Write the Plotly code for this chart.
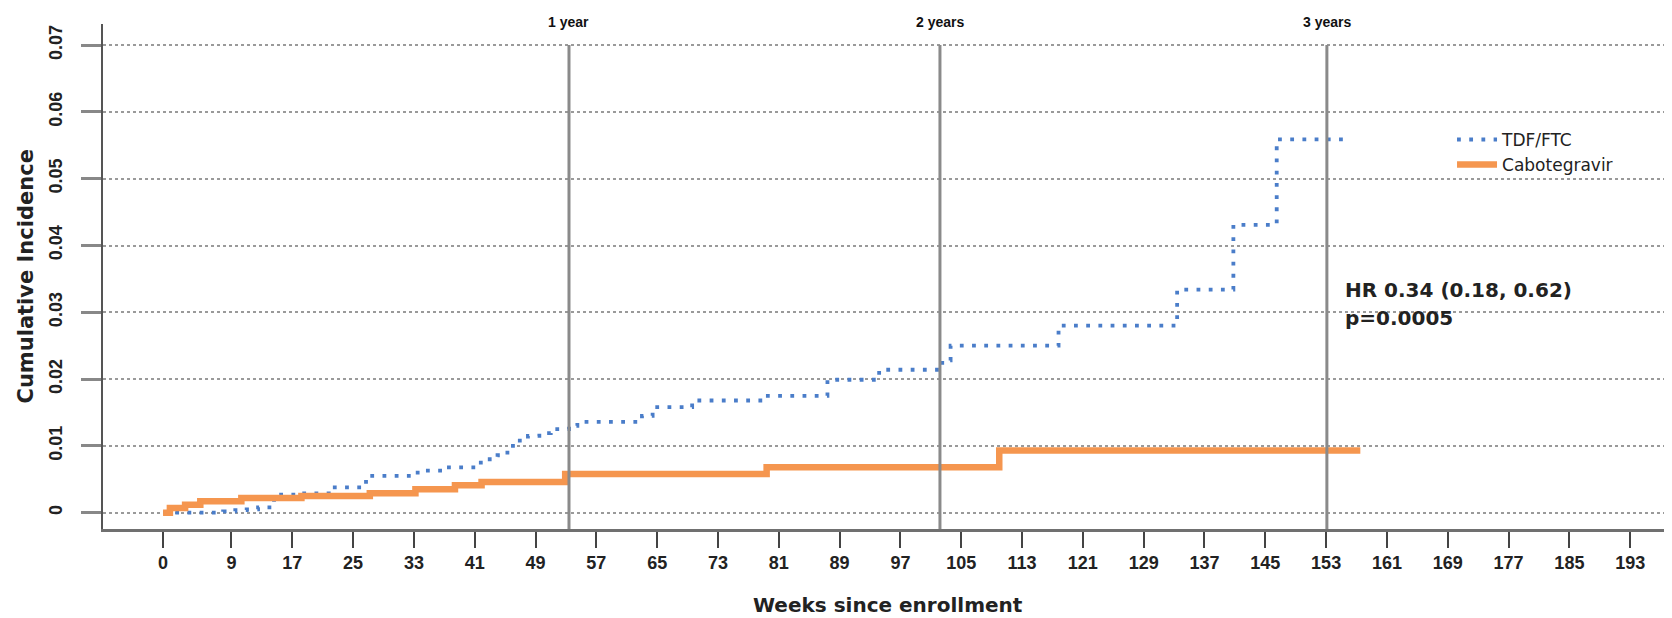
import plotly.graph_objects as go

# ---- data ----
tdf_weeks = [0, 7.9, 9.5, 11.0, 12.5, 14.6, 18.0, 21.8, 26.7, 32.9, 34.2, 37.3, 41.8, 44.0,
             45.3, 46.5, 48.0, 49.5, 51.0, 53.4, 54.5, 63.0, 64.4, 69.6, 78.9, 87.4, 94.2,
             102.5, 103.6, 117.8, 133.4, 140.8, 146.5, 156.2]
tdf_inc = [0, 0.0002, 0.0004, 0.0005, 0.0008, 0.0027, 0.0029, 0.0038, 0.0055, 0.0060, 0.0063,
           0.0068, 0.0080, 0.0086, 0.0100, 0.0108, 0.0115, 0.0119, 0.0125, 0.0130, 0.0136,
           0.0145, 0.0158, 0.0168, 0.0175, 0.0199, 0.0214, 0.0228, 0.0250, 0.0280, 0.0334,
           0.0431, 0.0559, 0.0559]

cab_weeks = [0, 0.9, 2.9, 4.9, 10.3, 18.2, 27.2, 33.2, 38.4, 41.9, 52.9, 79.4, 110.0, 157.5]
cab_inc = [0, 0.0007, 0.0012, 0.0017, 0.0022, 0.0025, 0.0029, 0.0035, 0.0041, 0.0046,
           0.0058, 0.0068, 0.0093, 0.0093]

x_ticks = [0, 9, 17, 25, 33, 41, 49, 57, 65, 73, 81, 89, 97, 105, 113, 121, 129, 137, 145,
           153, 161, 169, 177, 185, 193]
y_ticks = [0, 0.01, 0.02, 0.03, 0.04, 0.05, 0.06, 0.07]
y_tick_text = ["0", "0.01", "0.02", "0.03", "0.04", "0.05", "0.06", "0.07"]

year_weeks = [53.4, 102.2, 153.1]
year_labels = ["1 year", "2 years", "3 years"]

hr_text = "HR 0.34 (0.18, 0.62)"
p_text = "p=0.0005"

x_range = [-7.9, 198.5]
y_range = [-0.00244, 0.07316]

FONT = "Liberation Sans, Arial, sans-serif"
WIDE = "DejaVu Sans, Verdana, sans-serif"
BLUE = "#4A7DC9"
ORANGE = "#F5964F"

fig = go.Figure()
fig.add_trace(go.Scatter(
    x=tdf_weeks, y=tdf_inc, mode="lines", name="TDF/FTC", line_shape="hv",
    line=dict(color=BLUE, width=3.8, dash="3.8px,8.4px")))
fig.add_trace(go.Scatter(
    x=cab_weeks, y=cab_inc, mode="lines", name="Cabotegravir", line_shape="hv",
    line=dict(color=ORANGE, width=6.5)))

for wk, lab in zip(year_weeks, year_labels):
    fig.add_shape(type="line", xref="x", yref="y", x0=wk, x1=wk,
                  y0=y_range[0], y1=y_ticks[-1],
                  line=dict(color="#8a8a8a", width=3), layer="above")
    fig.add_annotation(x=wk, xref="x", y=1.0, yref="paper", text="<b>" + lab + "</b>",
                       showarrow=False, yanchor="middle", yshift=2,
                       font=dict(family=FONT, size=14, color="#111"))

fig.add_annotation(x=155.2, xref="x", y=0.0333, yref="y", xanchor="left",
                   yanchor="middle", showarrow=False, text="<b>" + hr_text + "</b>",
                   font=dict(family=WIDE, size=20, color="#222"))
fig.add_annotation(x=155.2, xref="x", y=0.0291, yref="y", xanchor="left",
                   yanchor="middle", showarrow=False, text="<b>" + p_text + "</b>",
                   font=dict(family=WIDE, size=20, color="#222"))

# axis titles
fig.add_annotation(x=0.5, xref="paper", y=0, yref="paper", yshift=-76,
                   xanchor="center", yanchor="middle", showarrow=False,
                   text="<b>Weeks since enrollment</b>",
                   font=dict(family=WIDE, size=20, color="#222"))
fig.add_annotation(x=0, xref="paper", y=0.5, yref="paper", xshift=-78,
                   xanchor="center", yanchor="middle", showarrow=False, textangle=-90,
                   text="<b>Cumulative Incidence</b>",
                   font=dict(family=WIDE, size=21, color="#222"))

fig.update_xaxes(
    range=x_range, tickvals=x_ticks, ticktext=[str(t) for t in x_ticks],
    showgrid=False, zeroline=False, showline=True, linecolor="#707070", linewidth=2.5,
    ticks="outside", ticklen=16, tickwidth=2, tickcolor="#444",
    ticklabelstandoff=0, automargin=False,
    tickfont=dict(family=FONT, size=18, color="#222", weight="bold"))
fig.update_yaxes(
    range=y_range, tickvals=y_ticks, ticktext=y_tick_text, tickangle=-90,
    showgrid=True, gridcolor="#9a9a9a", gridwidth=1.6, griddash="dot",
    zeroline=False, showline=True, linecolor="#555", linewidth=2,
    ticks="outside", ticklen=20, tickwidth=3, tickcolor="#888",
    ticklabelstandoff=12, automargin=False,
    tickfont=dict(family=FONT, size=18, color="#222", weight="bold"))

# the page body keeps an 8px margin, so the figure is 8px smaller and its
# margins are 8px smaller to land the plot area where the reference has it
fig.update_layout(
    width=1664, height=610,
    margin=dict(l=95, r=0, t=16, b=89, autoexpand=False),
    paper_bgcolor="white", plot_bgcolor="white",
    showlegend=True,
    legend=dict(x=0.8598, y=0.806, xanchor="left", yanchor="top",
                bgcolor="rgba(0,0,0,0)", tracegroupgap=0, itemwidth=40,
                font=dict(family=WIDE, size=17, color="#222")),
)

fig.write_html("out.html")
